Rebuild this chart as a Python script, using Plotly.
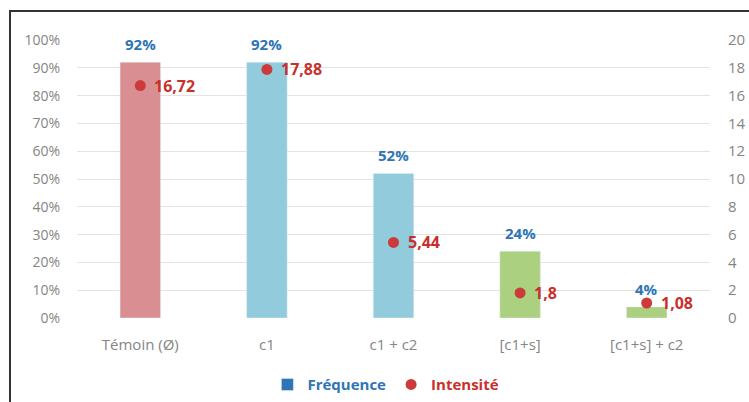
import plotly.graph_objects as go

categories = ["Témoin (Ø)", "c1", "c1 + c2", "[c1+s]", "[c1+s] + c2"]
frequence = [92, 92, 52, 24, 4]
intensite = [16.72, 17.88, 5.44, 1.8, 1.08]
bar_colors = ["#d98f92", "#92cbdc", "#92cbdc", "#abd07f", "#abd07f"]
left_ticks = list(range(0, 101, 10))
left_labels = [f"{v}%" for v in left_ticks]
right_ticks = list(range(0, 21, 2))

BLUE = "#2e75b6"
RED = "#c9302c"
FONT = "Open Sans"
GRAY = "#858585"

fig = go.Figure()
fig.add_trace(go.Bar(x=categories, y=frequence, marker_color=bar_colors,
                     width=0.32, showlegend=False, yaxis="y"))
fig.add_trace(go.Bar(x=[None], y=[None], marker_color=BLUE, showlegend=True,
                     name=f"<b><span style='color:{BLUE}'>Fréquence</span></b>"))
fig.add_trace(go.Scatter(x=categories, y=intensite, mode="markers", yaxis="y2",
                         marker=dict(color="#cc3b3b", size=11),
                         name=f"<b><span style='color:{RED}'>Intensité</span></b>"))

ann = []
for c, v in zip(categories, frequence):
    ann.append(dict(x=c, y=v, xref="x", yref="y", text=f"<b>{v}%</b>", showarrow=False,
                    yshift=18, yanchor="middle", font=dict(color=BLUE, size=15, family=FONT)))
for c, v in zip(categories, intensite):
    ann.append(dict(x=c, y=v, xref="x", yref="y2", text=f"<b>{str(v).replace('.', ',')}</b>",
                    showarrow=False, xanchor="left", xshift=12, yanchor="middle",
                    font=dict(color=RED, size=16, family=FONT)))

fig.update_layout(
    width=749, height=402,
    margin=dict(l=77, r=39, t=40, b=84, autoexpand=False),
    paper_bgcolor="white", plot_bgcolor="white",
    font=dict(family=FONT, color=GRAY, size=14),
    annotations=ann,
    xaxis=dict(showgrid=False, showline=False, ticks="", ticklabelstandoff=16,
               tickfont=dict(size=15, color=GRAY)),
    yaxis=dict(range=[0, 100], tickmode="array", tickvals=left_ticks, ticktext=left_labels,
               showgrid=True, gridcolor="#e3e3e3", gridwidth=1, zeroline=False, ticks="",
               ticklabelstandoff=16, tickfont=dict(size=14, color=GRAY)),
    yaxis2=dict(range=[0, 20], tickmode="array", tickvals=right_ticks, overlaying="y",
                side="right", showgrid=False, zeroline=False, ticks="",
                ticklabelstandoff=17, tickfont=dict(size=15, color=GRAY)),
    legend=dict(orientation="h", x=0.488, xanchor="center", y=-0.24, yanchor="middle",
                font=dict(size=15, family=FONT), itemwidth=30, bgcolor="rgba(0,0,0,0)"),
    shapes=[dict(type="rect", xref="paper", yref="paper",
                 x0=(10 - 77) / 633, x1=(770 - 77) / 633,
                 y0=(318 - 420) / 278, y1=1 + (40 - 11) / 278,
                 line=dict(color="#333333", width=2), layer="below")],
)

fig.write_html("out.html")
